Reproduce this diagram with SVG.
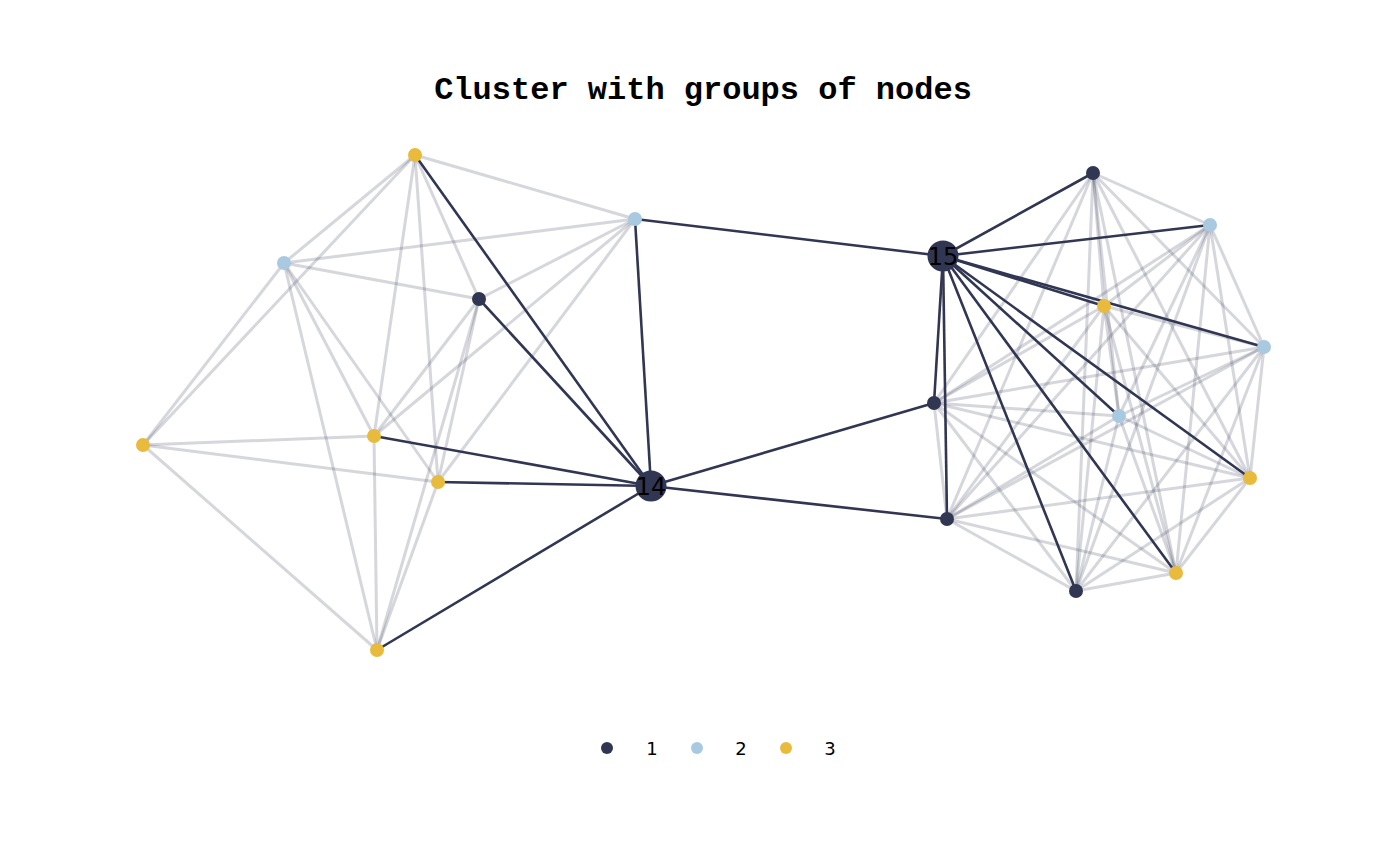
<svg xmlns="http://www.w3.org/2000/svg" width="1400" height="866" viewBox="0 0 1400 866">
<style>
.g{stroke:#313652;stroke-opacity:0.2;stroke-width:3;fill:none}
.d{stroke:#313652;stroke-width:2.6;fill:none}
.c1{fill:#313652}
.c2{fill:#a9c9e0}
.c3{fill:#e9bb3c}
.lbl{font-family:"DejaVu Sans",sans-serif;font-size:24px;fill:#000;text-anchor:middle}
.leg{font-family:"DejaVu Sans",sans-serif;font-size:18px;fill:#000;text-anchor:middle}
.title{font-family:"Liberation Mono","Courier New",monospace;font-size:32px;font-weight:bold;fill:#000;text-anchor:middle}
</style>
<rect width="1400" height="866" fill="#fff"/>
<text class="title" x="703" y="99">Cluster with groups of nodes</text>
<g id="connectors">
<!-- left cluster gray -->
<line class="g" x1="415" y1="155" x2="635" y2="219"/>
<line class="g" x1="415" y1="155" x2="284" y2="263"/>
<line class="g" x1="415" y1="155" x2="479" y2="299"/>
<line class="g" x1="415" y1="155" x2="143" y2="445"/>
<line class="g" x1="415" y1="155" x2="374" y2="436"/>
<line class="g" x1="415" y1="155" x2="438" y2="482"/>
<line class="g" x1="635" y1="219" x2="284" y2="263"/>
<line class="g" x1="635" y1="219" x2="479" y2="299"/>
<line class="g" x1="635" y1="219" x2="374" y2="436"/>
<line class="g" x1="635" y1="219" x2="438" y2="482"/>
<line class="g" x1="284" y1="263" x2="479" y2="299"/>
<line class="g" x1="284" y1="263" x2="143" y2="445"/>
<line class="g" x1="284" y1="263" x2="374" y2="436"/>
<line class="g" x1="284" y1="263" x2="438" y2="482"/>
<line class="g" x1="284" y1="263" x2="377" y2="650"/>
<line class="g" x1="479" y1="299" x2="374" y2="436"/>
<line class="g" x1="479" y1="299" x2="438" y2="482"/>
<line class="g" x1="479" y1="299" x2="377" y2="650"/>
<line class="g" x1="143" y1="445" x2="374" y2="436"/>
<line class="g" x1="143" y1="445" x2="438" y2="482"/>
<line class="g" x1="143" y1="445" x2="377" y2="650"/>
<line class="g" x1="374" y1="436" x2="377" y2="650"/>
<line class="g" x1="438" y1="482" x2="377" y2="650"/>
<!-- right cluster gray -->
<line class="g" x1="1093" y1="173" x2="1210" y2="225"/>
<line class="g" x1="1093" y1="173" x2="1104" y2="306"/>
<line class="g" x1="1093" y1="173" x2="1264" y2="347"/>
<line class="g" x1="1093" y1="173" x2="934" y2="403"/>
<line class="g" x1="1093" y1="173" x2="1119" y2="416"/>
<line class="g" x1="1093" y1="173" x2="1250" y2="478"/>
<line class="g" x1="1093" y1="173" x2="947" y2="519"/>
<line class="g" x1="1093" y1="173" x2="1076" y2="591"/>
<line class="g" x1="1093" y1="173" x2="1176" y2="573"/>
<line class="g" x1="1210" y1="225" x2="1104" y2="306"/>
<line class="g" x1="1210" y1="225" x2="1264" y2="347"/>
<line class="g" x1="1210" y1="225" x2="934" y2="403"/>
<line class="g" x1="1210" y1="225" x2="1119" y2="416"/>
<line class="g" x1="1210" y1="225" x2="1250" y2="478"/>
<line class="g" x1="1210" y1="225" x2="947" y2="519"/>
<line class="g" x1="1210" y1="225" x2="1076" y2="591"/>
<line class="g" x1="1210" y1="225" x2="1176" y2="573"/>
<line class="g" x1="1104" y1="306" x2="1264" y2="347"/>
<line class="g" x1="1104" y1="306" x2="934" y2="403"/>
<line class="g" x1="1104" y1="306" x2="1119" y2="416"/>
<line class="g" x1="1104" y1="306" x2="1250" y2="478"/>
<line class="g" x1="1104" y1="306" x2="947" y2="519"/>
<line class="g" x1="1104" y1="306" x2="1076" y2="591"/>
<line class="g" x1="1104" y1="306" x2="1176" y2="573"/>
<line class="g" x1="1264" y1="347" x2="934" y2="403"/>
<line class="g" x1="1264" y1="347" x2="1119" y2="416"/>
<line class="g" x1="1264" y1="347" x2="1250" y2="478"/>
<line class="g" x1="1264" y1="347" x2="947" y2="519"/>
<line class="g" x1="1264" y1="347" x2="1076" y2="591"/>
<line class="g" x1="1264" y1="347" x2="1176" y2="573"/>
<line class="g" x1="934" y1="403" x2="1119" y2="416"/>
<line class="g" x1="934" y1="403" x2="1250" y2="478"/>
<line class="g" x1="934" y1="403" x2="947" y2="519"/>
<line class="g" x1="934" y1="403" x2="1076" y2="591"/>
<line class="g" x1="934" y1="403" x2="1176" y2="573"/>
<line class="g" x1="1119" y1="416" x2="1250" y2="478"/>
<line class="g" x1="1119" y1="416" x2="947" y2="519"/>
<line class="g" x1="1119" y1="416" x2="1076" y2="591"/>
<line class="g" x1="1119" y1="416" x2="1176" y2="573"/>
<line class="g" x1="1250" y1="478" x2="947" y2="519"/>
<line class="g" x1="1250" y1="478" x2="1076" y2="591"/>
<line class="g" x1="1250" y1="478" x2="1176" y2="573"/>
<line class="g" x1="947" y1="519" x2="1076" y2="591"/>
<line class="g" x1="947" y1="519" x2="1176" y2="573"/>
<line class="g" x1="1076" y1="591" x2="1176" y2="573"/>
<!-- dark edges -->
<line class="d" x1="651" y1="486" x2="415" y2="155"/>
<line class="d" x1="651" y1="486" x2="635" y2="219"/>
<line class="d" x1="651" y1="486" x2="479" y2="299"/>
<line class="d" x1="651" y1="486" x2="374" y2="436"/>
<line class="d" x1="651" y1="486" x2="438" y2="482"/>
<line class="d" x1="651" y1="486" x2="377" y2="650"/>
<line class="d" x1="651" y1="486" x2="934" y2="403"/>
<line class="d" x1="651" y1="486" x2="947" y2="519"/>
<line class="d" x1="635" y1="219" x2="943" y2="256"/>
<line class="d" x1="943" y1="256" x2="1093" y2="173"/>
<line class="d" x1="943" y1="256" x2="1210" y2="225"/>
<line class="d" x1="943" y1="256" x2="1104" y2="306"/>
<line class="d" x1="943" y1="256" x2="1264" y2="347"/>
<line class="d" x1="943" y1="256" x2="934" y2="403"/>
<line class="d" x1="943" y1="256" x2="1119" y2="416"/>
<line class="d" x1="943" y1="256" x2="1250" y2="478"/>
<line class="d" x1="943" y1="256" x2="947" y2="519"/>
<line class="d" x1="943" y1="256" x2="1076" y2="591"/>
<line class="d" x1="943" y1="256" x2="1176" y2="573"/>
</g>
<g id="node-a"><circle class="c3" cx="415" cy="155" r="7"/></g>
<g id="node-b"><circle class="c2" cx="635" cy="219" r="7"/></g>
<g id="node-c"><circle class="c2" cx="284" cy="263" r="7"/></g>
<g id="node-d"><circle class="c1" cx="479" cy="299" r="7"/></g>
<g id="node-e"><circle class="c3" cx="143" cy="445" r="7"/></g>
<g id="node-f"><circle class="c3" cx="374" cy="436" r="7"/></g>
<g id="node-g"><circle class="c3" cx="438" cy="482" r="7"/></g>
<g id="node-h"><circle class="c3" cx="377" cy="650" r="7"/></g>
<g id="node-14"><circle class="c1" cx="651" cy="486" r="15.5"/><text class="lbl" x="651" y="494.5">14</text></g>
<g id="node-15"><circle class="c1" cx="943" cy="256" r="15.5"/><text class="lbl" x="943" y="264.5">15</text></g>
<g id="node-A"><circle class="c1" cx="1093" cy="173" r="7"/></g>
<g id="node-B"><circle class="c2" cx="1210" cy="225" r="7"/></g>
<g id="node-C"><circle class="c3" cx="1104" cy="306" r="7"/></g>
<g id="node-D"><circle class="c2" cx="1264" cy="347" r="7"/></g>
<g id="node-E"><circle class="c1" cx="934" cy="403" r="7"/></g>
<g id="node-F"><circle class="c2" cx="1119" cy="416" r="7"/></g>
<g id="node-G"><circle class="c3" cx="1250" cy="478" r="7"/></g>
<g id="node-H"><circle class="c1" cx="947" cy="519" r="7"/></g>
<g id="node-I"><circle class="c1" cx="1076" cy="591" r="7"/></g>
<g id="node-J"><circle class="c3" cx="1176" cy="573" r="7"/></g>
<g id="legend">
<circle class="c1" cx="607" cy="748" r="6"/><text class="leg" x="652" y="755">1</text>
<circle class="c2" cx="697" cy="748" r="6"/><text class="leg" x="741" y="755">2</text>
<circle class="c3" cx="786" cy="748" r="6"/><text class="leg" x="830" y="755">3</text>
</g>
</svg>
